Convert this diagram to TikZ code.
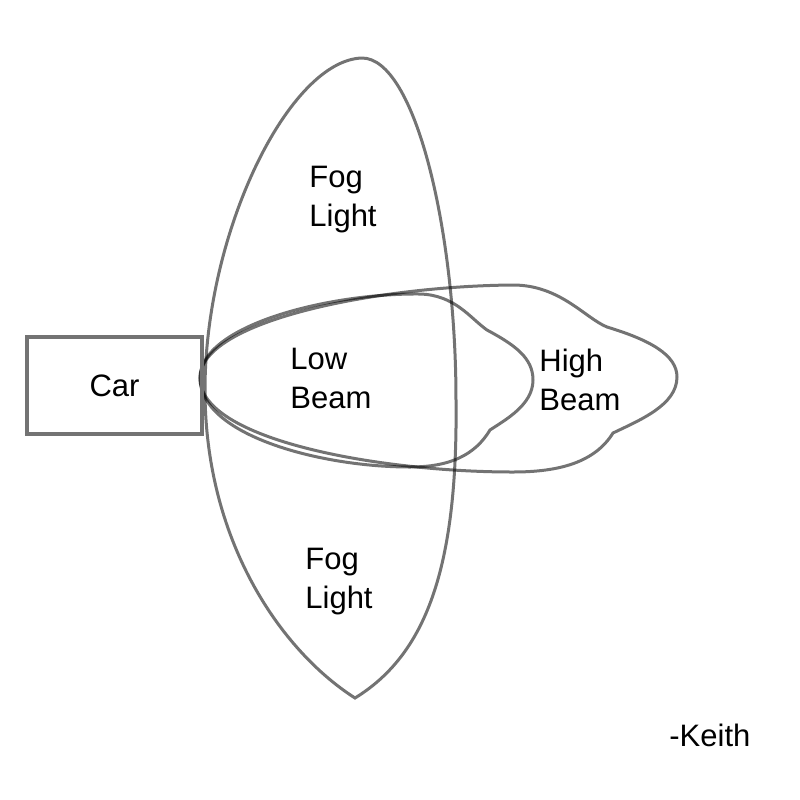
\documentclass[tikz,border=0pt]{standalone}
\usepackage{fontspec}
\setmainfont{Liberation Sans}
\usetikzlibrary{positioning}

\begin{document}
\begin{tikzpicture}[
    x=0.5pt, y=-0.5pt,
    beam/.style={draw=black, draw opacity=0.55, line width=1.5pt},
    lbl/.style={align=left, inner sep=0pt, font=\fontsize{15.5}{19.5}\selectfont},
  ]
  \useasboundingbox (0,0) rectangle (800,800);

  % fog light
  \draw[beam] (362,58) .. controls (415,58) and (456,230) .. (456,400)
    .. controls (458,570) and (425,655) .. (355,698)
    .. controls (280,650) and (205,540) .. (205,390)
    .. controls (205,230) and (290,60) .. (362,58) -- cycle;

  % high beam
  \draw[beam] (200,378) .. controls (200,320) and (380,286) .. (513,285)
    .. controls (560,285) and (585,318) .. (607,327)
    .. controls (650,340) and (677,355) .. (677,377)
    .. controls (677,405) and (640,420) .. (613,433)
    .. controls (595,462) and (560,472) .. (513,472)
    .. controls (380,472) and (200,440) .. (200,378) -- cycle;

  % low beam
  \draw[beam] (200,378) .. controls (200,325) and (330,293) .. (420,294)
    .. controls (455,295) and (470,318) .. (487,330)
    .. controls (515,345) and (533,358) .. (533,380)
    .. controls (533,405) and (505,420) .. (490,430)
    .. controls (475,455) and (450,467) .. (410,467)
    .. controls (320,467) and (200,435) .. (200,378) -- cycle;

  \node[lbl, draw=black!55, line width=1.7pt, minimum width=87.5pt, minimum height=48.5pt] (car) at (114.5,385.5) {Car};

  \node[lbl, anchor=west] (fogtop) at (309,200) {Fog\\Light};
  \node[lbl, anchor=west] (lowbeam) at (290,378) {Low\\Beam};
  \node[lbl, anchor=west] (highbeam) at (539,380) {High\\Beam};
  \node[lbl, anchor=west] (fogbottom) at (305,582) {Fog\\Light};
  \node[lbl, anchor=west] (keith) at (669,735) {-Keith};
\end{tikzpicture}
\end{document}
